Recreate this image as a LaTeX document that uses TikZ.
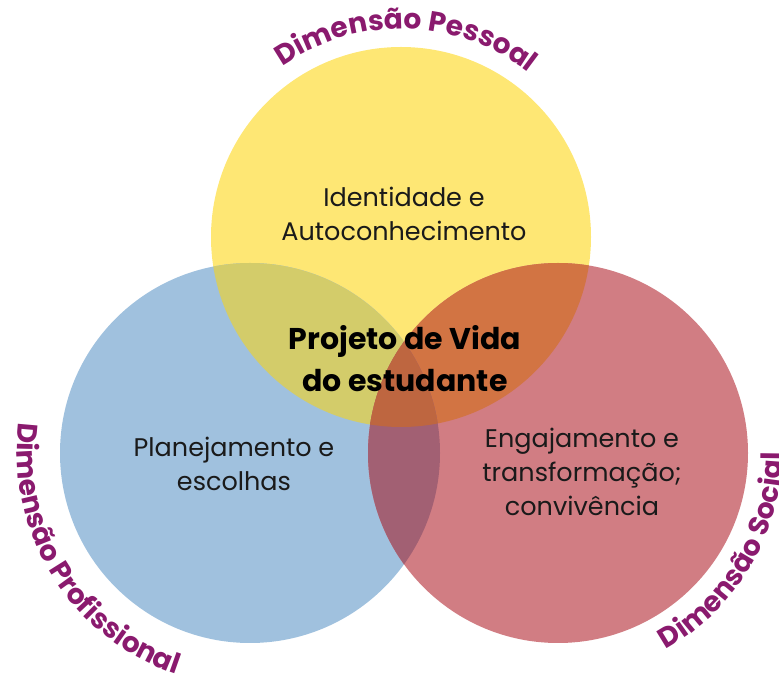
\documentclass[tikz,border=0pt]{standalone}
\usepackage{fontspec}
\setmainfont{Poppins}
\usetikzlibrary{decorations.text}
\definecolor{cyel}{HTML}{FEE774}
\definecolor{cblu}{HTML}{A0C1DE}
\definecolor{cred}{HTML}{D17D83}
\definecolor{cyb}{HTML}{D3CC6A}
\definecolor{cyr}{HTML}{D27443}
\definecolor{cbr}{HTML}{A26073}
\definecolor{cmid}{HTML}{BE6640}
\definecolor{clab}{HTML}{8A1A6E}
\definecolor{ctxt}{HTML}{1A1A1A}
\tikzset{
  bodytext/.style={align=center, text=ctxt, font=\fontsize{25.5}{34}\selectfont},
  titletext/.style={align=center, text=black, font=\bfseries\fontsize{30}{42}\selectfont},
  arclabel/.style={decorate, decoration={text along path, text align=center,
     text color=clab}}
}
\begin{document}
\begin{tikzpicture}[x=1pt,y=1pt]
\useasboundingbox (0,0) rectangle (779,677);
\coordinate (Y) at (401,440);
\coordinate (B) at (250,224);
\coordinate (R) at (558,224);
\def\rad{190}
% base circles
\fill[cyel] (Y) circle[radius=\rad];
\fill[cblu] (B) circle[radius=\rad];
\fill[cred] (R) circle[radius=\rad];
% pairwise overlaps
\begin{scope}
  \clip (Y) circle[radius=\rad];
  \fill[cyb] (B) circle[radius=\rad];
  \fill[cyr] (R) circle[radius=\rad];
\end{scope}
\begin{scope}
  \clip (B) circle[radius=\rad];
  \fill[cbr] (R) circle[radius=\rad];
\end{scope}
\begin{scope}
  \clip (Y) circle[radius=\rad];
  \clip (B) circle[radius=\rad];
  \fill[cmid] (R) circle[radius=\rad];
\end{scope}
% texts
\node[bodytext] (tid) at (404,463) {Identidade e\\Autoconhecimento};
\node[titletext] (tpv) at (405,318) {Projeto de Vida\\do estudante};
\node[bodytext] (tpl) at (234,213) {Planejamento e\\escolhas};
\node[bodytext] (ten) at (582,205) {Engajamento e\\transformação;\\convivência};
% curved labels
\path[arclabel, decoration={text={|\bfseries\fontsize{28}{28}\selectfont|Dimensão Pessoal}}]
  (Y) ++(150:208) arc[start angle=150, end angle=27, radius=208];
\path[arclabel, decoration={text={|\bfseries\fontsize{28}{28}\selectfont|Dimensão Profissional}}]
  (B) ++(150:233) arc[start angle=150, end angle=274, radius=233];
\path[arclabel, decoration={text={|\bfseries\fontsize{28}{28}\selectfont|Dimensão Social}}]
  (R) ++(-90:224) arc[start angle=-90, end angle=29, radius=224];
\end{tikzpicture}
\end{document}
